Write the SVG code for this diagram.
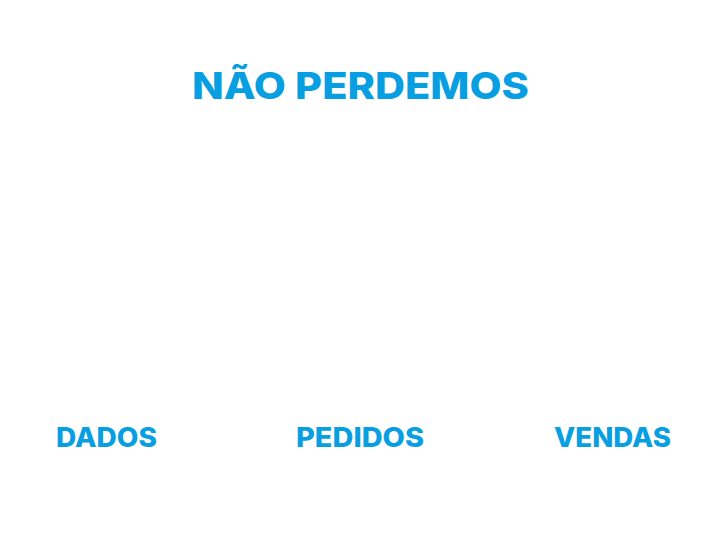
<svg xmlns="http://www.w3.org/2000/svg" width="722" height="545" viewBox="0 0 722 545">
<style>
.t{font-family:Inter,"Open Sans","Liberation Sans",sans-serif;font-weight:800;fill:#079fe2}
.h{font-size:37px}
.l{font-size:26.5px}
</style>
<rect width="722" height="545" fill="#ffffff"/>
<g id="title"><text class="t h" x="192" y="99" textLength="337" lengthAdjust="spacingAndGlyphs">NÃO PERDEMOS</text></g>
<g id="connectors"></g>
<g id="dados"><text class="t l" x="56" y="447" textLength="101" lengthAdjust="spacingAndGlyphs">DADOS</text></g>
<g id="pedidos"><text class="t l" x="296" y="447" textLength="128" lengthAdjust="spacingAndGlyphs">PEDIDOS</text></g>
<g id="vendas"><text class="t l" x="554" y="447" textLength="117" lengthAdjust="spacingAndGlyphs">VENDAS</text></g>
</svg>
